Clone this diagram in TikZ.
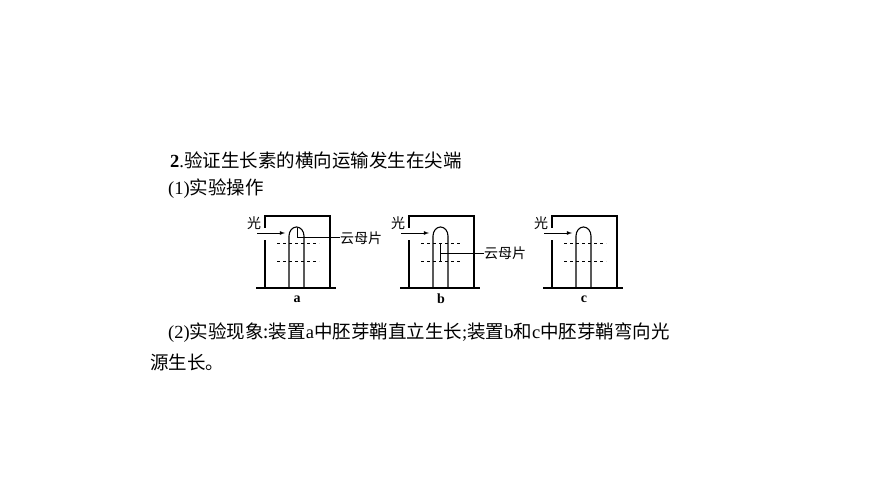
\documentclass[tikz,border=0pt]{standalone}
\usepackage{fontspec}
\setmainfont{Liberation Serif}
\newfontfamily\cjk{Noto Sans CJK SC}
\usetikzlibrary{positioning}
\begin{document}
\begin{tikzpicture}[x=1pt,y=-1pt]
        % styles
        \tikzset{wall/.style={line width=1.1pt},
                 txt/.style={anchor=west, inner sep=0pt, font=\fontsize{18.5}{21}\selectfont},
                 lbl/.style={inner sep=0pt, font=\fontsize{14}{16}\selectfont},
                 cut/.style={dashed, line width=0.7pt}}
        \useasboundingbox (0,0) rectangle (870,489);

        % texts
        \node[txt] (title) at (170,160) {\textbf{2}.{\cjk 验证生长素的横向运输发生在尖端}};
        \node[txt] (op) at (168,189) {(1){\cjk 实验操作}};
        \node[txt] (res1) at (168,333) {(2){\cjk 实验现象:装置}a{\cjk 中胚芽鞘直立生长};{\cjk 装置}b{\cjk 和}c{\cjk 中胚芽鞘弯向光}};
        \node[txt] (res2) at (150,362) {{\cjk 源生长。}};

        % three setups
        \foreach \dx/\nm in {0/a,144/b,287/c} {
          \begin{scope}[xshift=\dx]
            \draw[wall] (256,288) -- (336,288);
            \draw[wall] (265,228) -- (265,216) -- (330,216) -- (330,288);
            \draw[wall] (265,240) -- (265,288);
            \draw[wall] (289,288) -- (289,236) arc[start angle=180, end angle=360, x radius=7.5, y radius=9] -- (304,288);
            \draw[cut] (277,243) -- (319,243);
            \draw[cut] (277,261) -- (319,261);
            \draw[-latex, line width=0.8pt] (257,233) -- (285,233);
            \node[lbl, anchor=south] (light\nm) at (254,230) {\cjk 光};
            \node[lbl, font=\bfseries\fontsize{14}{16}\selectfont] (name\nm) at (297,299) {\nm};
          \end{scope}
        }

        % mica
        \node[lbl, anchor=west] (micaa) at (340,238) {\cjk 云母片};
        \draw[line width=1pt] (297,228) -- (297,238) -- (micaa.west);
        \node[lbl, anchor=west] (micab) at (484,253) {\cjk 云母片};
        \draw[line width=1pt] (440,243) -- (440,261);
        \draw[line width=1pt] (440,253) -- (micab.west);
\end{tikzpicture}
\end{document}
